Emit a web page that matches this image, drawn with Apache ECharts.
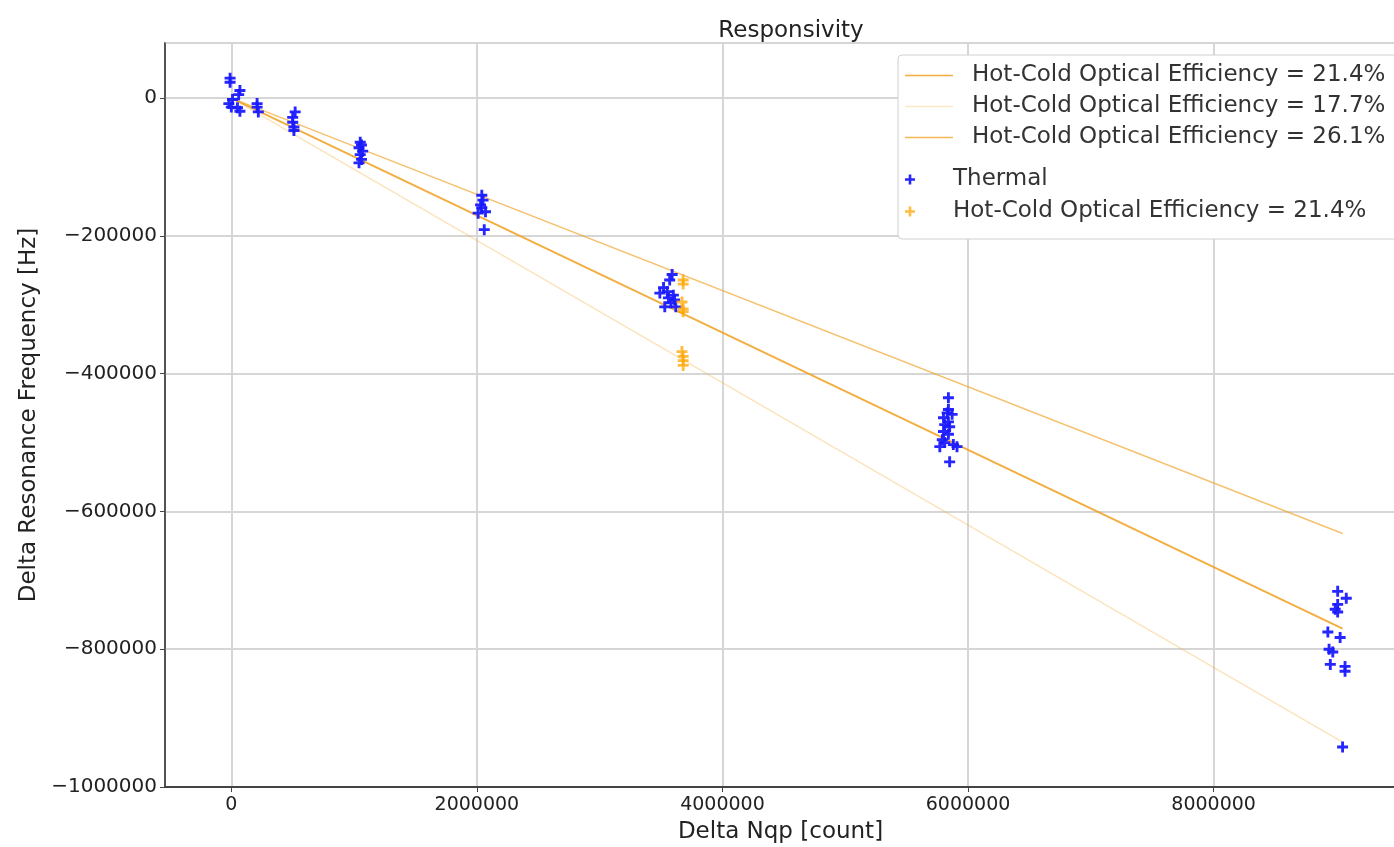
<!DOCTYPE html>
<html>
<head>
<meta charset="utf-8">
<script src="https://cdn.jsdelivr.net/npm/echarts@6/dist/echarts.min.js"></script>
<style>
  html, body { margin: 0; padding: 0; background: #fff; }
  #chart { width: 1394px; height: 847px; }
</style>
</head>
<body>
<div id="chart"></div>
<script>
// fit lines, [delta Nqp, delta f]
const fit214 = [[0, 0], [9050000, -770000]]
const fit177 = [[0, 0], [9050000, -935000]]
const fit261 = [[0, 0], [9050000, -632000]]

// thermal sweep points
const thermal = [
  [-10000, 29000], [-10000, 23000], [70000, 11000], [60000, 5000], [10000, -2000],
  [-20000, -8000], [0, -13000], [50000, -14000], [70000, -19000],
  [210000, -8000], [210000, -13000], [220000, -20000],
  [520000, -20000], [500000, -28000], [500000, -35000], [510000, -42000], [510000, -47000],
  [1050000, -64000], [1060000, -68000], [1040000, -72000], [1070000, -77000],
  [1050000, -82000], [1060000, -89000], [1040000, -94000],
  [2040000, -141000], [2050000, -148000], [2030000, -155000], [2040000, -159000],
  [2010000, -167000], [2070000, -165000], [2060000, -191000],
  [3590000, -256000], [3570000, -264000], [3520000, -275000], [3550000, -281000],
  [3490000, -283000], [3600000, -286000], [3560000, -290000], [3610000, -293000],
  [3580000, -297000], [3530000, -303000], [3620000, -303000],
  [5840000, -435000], [5840000, -452000], [5830000, -457000], [5870000, -459000],
  [5800000, -464000], [5840000, -470000], [5810000, -474000], [5850000, -477000],
  [5800000, -484000], [5840000, -488000], [5790000, -496000], [5810000, -500000],
  [5880000, -503000], [5910000, -506000], [5770000, -506000], [5850000, -528000],
  [9010000, -716000], [9080000, -726000], [9010000, -735000], [8990000, -742000],
  [9010000, -746000], [8930000, -775000], [9030000, -783000], [8940000, -800000],
  [8970000, -804000], [8950000, -822000], [9070000, -825000], [9070000, -832000],
  [9050000, -942000]
]

// hot-cold optical points
const optical = [
  [3680000, -264000], [3680000, -270000], [3670000, -296000], [3680000, -306000],
  [3680000, -310000], [3670000, -368000], [3680000, -375000], [3680000, -381000],
  [3680000, -388000]
]

// x ticks
const xTicks = [0, 2000000, 4000000, 6000000, 8000000]

const labels = {
  fit214: 'Hot-Cold Optical Efficiency = 21.4%',
  fit177: 'Hot-Cold Optical Efficiency = 17.7%',
  fit261: 'Hot-Cold Optical Efficiency = 26.1%',
  thermal: 'Thermal',
  opt214: 'Hot-Cold Optical Efficiency = 21.4%'
}

const FONT = 'DejaVu Sans'
const plus = 'path://M3.7,0H6.3V3.7H10V6.3H6.3V10H3.7V6.3H0V3.7H3.7Z'
const dash = 'path://M0,0H48V1.6H0Z'
const minus = v => String(v).replace('-', '\u2212')

const legendText = {
  fontFamily: FONT, fontSize: 23, color: '#333', lineHeight: 20,
  padding: [0, 0, 0, 14]
}

const chart = echarts.init(document.getElementById('chart'))

chart.setOption({
  animation: false,
  title: {
    text: 'Responsivity',
    left: 786, top: 15, textAlign: 'center',
    textStyle: { fontFamily: FONT, fontSize: 23, fontWeight: 'normal', color: '#222' }
  },
  legend: [{
    orient: 'vertical', left: 898, top: 55, z: 4,
    data: [
      { name: 'fit214', icon: dash, itemStyle: { opacity: 0.85 } },
      { name: 'fit177', icon: dash, itemStyle: { opacity: 0.3 } },
      { name: 'fit261', icon: dash, itemStyle: { opacity: 0.75 } }
    ],
    formatter: n => labels[n],
    itemWidth: 48, itemHeight: 14, itemGap: 8,
    padding: [9, 40, 90, 7],
    backgroundColor: '#fff', borderColor: '#d0d0d0', borderWidth: 1, borderRadius: 4,
    textStyle: legendText
  }, {
    orient: 'vertical', left: 898, top: 168, z: 5,
    data: ['thermal', 'opt214'],
    formatter: n => labels[n],
    itemWidth: 48, itemHeight: 10, itemGap: 9,
    padding: [0, 0, 0, 7],
    textStyle: legendText
  }],
  grid: {
    left: 165, right: -2, top: 43, bottom: 60, outerBoundsMode: 'none',
    show: true, borderColor: '#555', borderWidth: 1.5
  },
  xAxis: {
    type: 'value', min: -540000, max: 9485000,
    name: 'Delta Nqp [count]', nameLocation: 'middle', nameGap: 34,
    nameTextStyle: { fontFamily: FONT, fontSize: 23, color: '#222' },
    axisLine: { onZero: false, lineStyle: { color: '#444', width: 2 } },
    axisTick: { show: true, length: 5, customValues: xTicks, lineStyle: { color: '#444' } },
    axisLabel: {
      fontFamily: FONT, fontSize: 19, color: '#222', margin: 9,
      customValues: xTicks, formatter: minus
    },
    splitLine: { show: true, lineStyle: { color: '#d6d6d6', width: 2 } }
  },
  yAxis: {
    type: 'value', min: -1000000, max: 80000, interval: 200000,
    name: 'Delta Resonance Frequency [Hz]', nameLocation: 'middle', nameGap: 119,
    nameTextStyle: { fontFamily: FONT, fontSize: 23, color: '#222' },
    axisLine: { show: true, onZero: false, lineStyle: { color: '#444', width: 1.5 } },
    axisTick: { show: true, length: 5, lineStyle: { color: '#444' } },
    axisLabel: {
      fontFamily: FONT, fontSize: 20, color: '#222', margin: 8,
      showMaxLabel: false, formatter: minus
    },
    splitLine: { show: true, lineStyle: { color: '#d6d6d6', width: 2 } }
  },
  series: [
    {
      name: 'fit214', type: 'line', data: fit214, symbol: 'none', z: 2,
      lineStyle: { color: '#f0a020', width: 2, opacity: 0.85 }, itemStyle: { color: '#f0a020' }
    },
    {
      name: 'fit177', type: 'line', data: fit177, symbol: 'none', z: 2,
      lineStyle: { color: '#f5b041', width: 1.5, opacity: 0.35 }, itemStyle: { color: '#f5b041' }
    },
    {
      name: 'fit261', type: 'line', data: fit261, symbol: 'none', z: 2,
      lineStyle: { color: '#f0a020', width: 1.5, opacity: 0.65 }, itemStyle: { color: '#f0a020' }
    },
    {
      name: 'thermal', type: 'scatter', data: thermal, symbol: plus, symbolSize: 11, z: 3,
      itemStyle: { color: '#1a1aff', opacity: 0.95 }
    },
    {
      name: 'opt214', type: 'scatter', data: optical, symbol: plus, symbolSize: 11, z: 3,
      itemStyle: { color: '#ffa500', opacity: 0.75 }
    }
  ]
})
</script>
</body>
</html>
